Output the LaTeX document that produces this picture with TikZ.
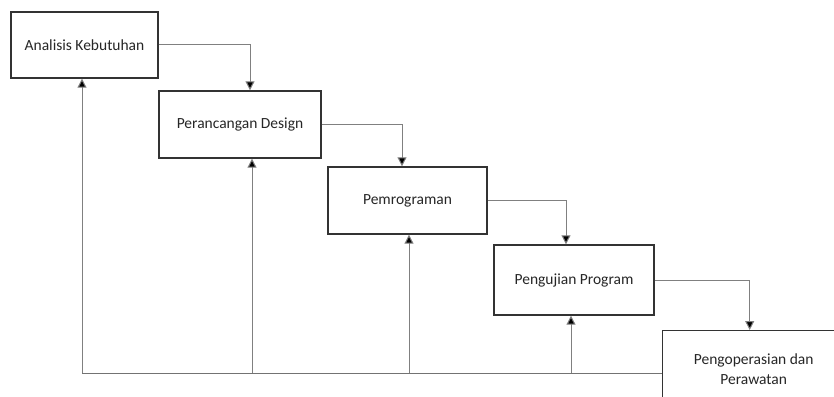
\documentclass[tikz,border=0pt]{standalone}
\usepackage{fontspec}
\setmainfont{Carlito}
\usetikzlibrary{arrows.meta,calc}
\begin{document}
\begin{tikzpicture}[x=1pt,y=-1pt,
  stage/.style={draw=black!80,line width=1.4pt,fill=white,text=black!85,
    font=\fontsize{15.5}{20}\selectfont,align=center,inner sep=0pt},
  link/.style={draw=black!50,line width=1pt,-{Triangle[length=9pt,width=9pt,fill=black]}},
  back/.style={draw=black!55,line width=1pt},
]
\clip (0,0) rectangle (834,396);
\fill[white] (0,0) rectangle (834,396);

% waterfall stages
\node[stage,minimum width=147pt,minimum height=66pt] (a) at (84.5,45) {Analisis Kebutuhan};
\node[stage,minimum width=162pt,minimum height=67pt] (b) at (240,124.5) {Perancangan Design};
\node[stage,minimum width=159pt,minimum height=67pt] (c) at (407.5,200.5) {Pemrograman};
\node[stage,minimum width=160pt,minimum height=70pt] (d) at (574,280) {Pengujian Program};
\node[stage,minimum width=182pt,minimum height=76pt,anchor=north west] (e) at (662,330)
  {Pengoperasian dan\\Perawatan};

% forward flow
\draw[link] (a.east) -| ([xshift=10pt]b.north);
\draw[link] (b.east) -| ([xshift=-5.5pt]c.north);
\draw[link] (c.east) -| ([xshift=-8pt]d.north);
\draw[link] (d.east) -| ([xshift=-4pt]e.north);

% feedback line along the bottom
\coordinate (loop) at (82,373);
\coordinate (bin) at ([xshift=12pt]b.south);
\coordinate (cin) at ([xshift=1.5pt]c.south);
\coordinate (din) at ([xshift=-3pt]d.south);
\draw[back] (loop -| e.west) -- (loop);
\draw[link] (loop) -- (loop |- a.south);
\draw[link] (loop -| bin) -- (bin);
\draw[link] (loop -| cin) -- (cin);
\draw[link] (loop -| din) -- (din);
\end{tikzpicture}
\end{document}
